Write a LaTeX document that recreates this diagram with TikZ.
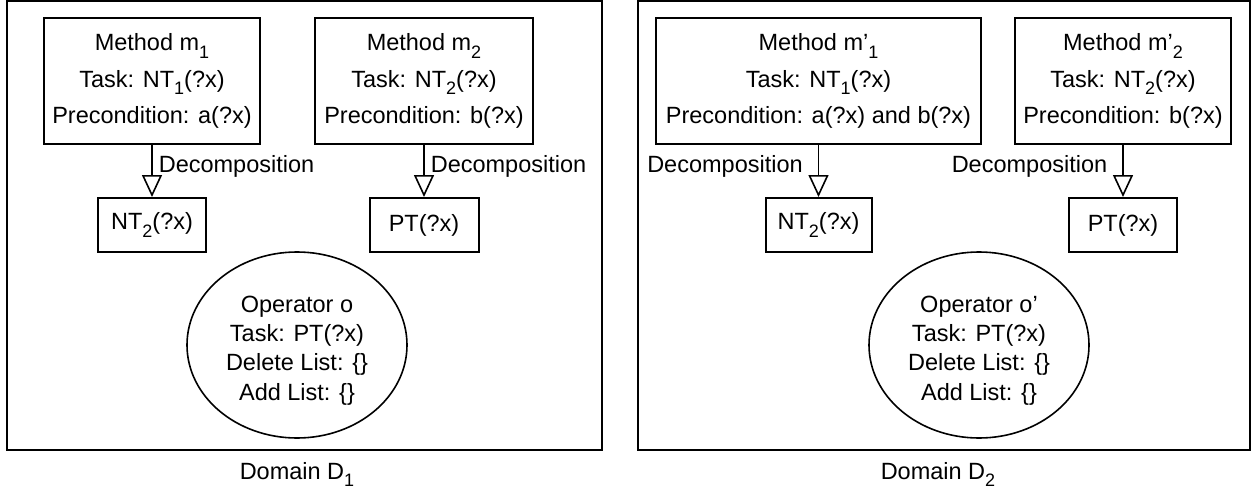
\documentclass[tikz,border=0pt]{standalone}
\usepackage{fontspec}
\setmainfont{Liberation Sans}
\usetikzlibrary{arrows.meta,shapes.geometric}
\newcommand{\lsub}[1]{\raisebox{-0.32em}{\fontsize{18}{18}\selectfont #1}}
\begin{document}
\begin{tikzpicture}[x=1pt,y=-1pt,
  every node/.style={font=\fontsize{23.5}{36.5}\selectfont},
  framebox/.style={draw,line width=2pt},
  methodbox/.style={draw,line width=2pt,rectangle,align=center,minimum height=126pt,inner sep=0pt},
  taskbox/.style={draw,line width=2pt,rectangle,minimum height=54pt,inner sep=0pt},
  opnode/.style={draw,line width=1.6pt,ellipse,minimum width=220pt,minimum height=186pt,inner sep=0pt,align=center,font=\fontsize{23.5}{29.3}\selectfont},
  decomp/.style={line width=1.6pt,-{Triangle[open,length=22pt,width=20pt]}},
  lblr/.style={inner sep=0pt,anchor=base west,xshift=6pt,pos=0.52},
  lbll/.style={inner sep=0pt,anchor=base east,xshift=-15pt,pos=0.52},
  domlbl/.style={inner sep=0pt,anchor=base}]
\useasboundingbox (0,0) rectangle (1252,492);
% frames
\draw[framebox] (7,1.5) rectangle (602,450);
\draw[framebox] (638,1.5) rectangle (1250,450);
% Domain D1
\node[methodbox,minimum width=216pt] (m1) at (152,81) {Method m\lsub{1}\\Task: NT\lsub{1}(?x)\\Precondition: a(?x)};
\node[methodbox,minimum width=218pt] (m2) at (424,81) {Method m\lsub{2}\\Task: NT\lsub{2}(?x)\\Precondition: b(?x)};
\node[taskbox,minimum width=108pt] (t1) at (152,225) {NT\lsub{2}(?x)};
\node[taskbox,minimum width=109pt] (t2) at (424,225) {PT(?x)};
\node[opnode] (o1) at (297,345) {\rule{0pt}{27pt}Operator o\\Task: PT(?x)\\Delete List: \{\}\\Add List: \{\}};
\draw[decomp] (m1.south) -- node[lblr] {Decomposition} (t1.north);
\draw[decomp] (m2.south) -- node[lblr] {Decomposition} (t2.north);
\node[domlbl] (d1) at (297,479) {Domain D\lsub{1}};
% Domain D2
\node[methodbox,minimum width=325pt] (n1) at (818.5,81) {Method m'\lsub{1}\\Task: NT\lsub{1}(?x)\\Precondition: a(?x) and b(?x)};
\node[methodbox,minimum width=216pt] (n2) at (1123,81) {Method m'\lsub{2}\\Task: NT\lsub{2}(?x)\\Precondition: b(?x)};
\node[taskbox,minimum width=106pt] (s1) at (818.5,225) {NT\lsub{2}(?x)};
\node[taskbox,minimum width=108pt] (s2) at (1123,225) {PT(?x)};
\node[opnode] (o2) at (979,345) {\rule{0pt}{27pt}Operator o'\\Task: PT(?x)\\Delete List: \{\}\\Add List: \{\}};
\draw[decomp] (n1.south) -- node[lbll] {Decomposition} (s1.north);
\draw[decomp] (n2.south) -- node[lbll] {Decomposition} (s2.north);
\node[domlbl] (d2) at (938,479) {Domain D\lsub{2}};
\end{tikzpicture}
\end{document}
